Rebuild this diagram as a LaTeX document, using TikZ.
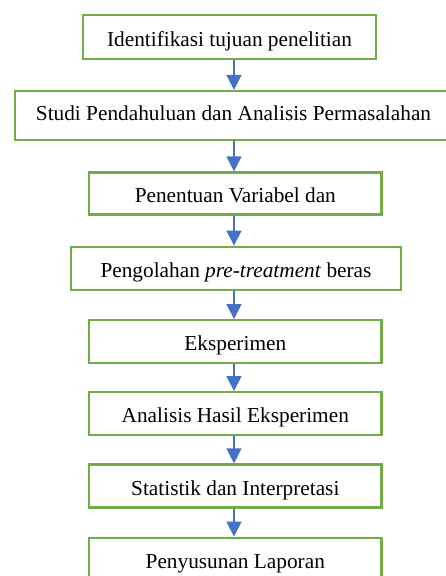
\documentclass[tikz,border=0pt]{standalone}
\usepackage{fontspec}
\setmainfont{Liberation Serif}
\usetikzlibrary{arrows.meta}
\definecolor{boxgreen}{HTML}{70AD47}
\definecolor{arrowblue}{HTML}{4472C4}
\begin{document}
\begin{tikzpicture}[x=1pt,y=-1pt,
  stepbox/.style={draw=boxgreen, line width=2.2pt, fill=white, inner sep=0pt,
    font=\fontsize{21.3}{25}\selectfont, text height=18pt, text depth=0pt,
    minimum height=43pt},
  flow/.style={draw=arrowblue, line width=1.3pt,
    -{Triangle[width=15pt,length=15pt]}, arrowblue}
]
\useasboundingbox (0,0) rectangle (445,576);
\coordinate (ax) at (234,0);
\node[stepbox, minimum width=293pt, minimum height=44pt] (b1) at (229.5,37) {Identifikasi tujuan penelitian};
\node[stepbox, minimum width=437pt, minimum height=48.7pt, text height=10.6pt] (b2) at (233.5,115.4) {Studi Pendahuluan dan Analisis Permasalahan};
\node[stepbox, minimum width=292.5pt, minimum height=42pt] (b3) at (235.3,193.5) {Penentuan Variabel dan};
\node[stepbox, minimum width=330pt] (b4) at (236,268.2) {Pengolahan \textit{pre-treatment} beras};
\node[stepbox, minimum width=292.5pt] (b5) at (235.3,341.7) {Eksperimen};
\node[stepbox, minimum width=292.5pt] (b6) at (235.3,413.7) {Analisis Hasil Eksperimen};
\node[stepbox, minimum width=292.5pt] (b7) at (235.3,486) {Statistik dan Interpretasi};
\node[stepbox, minimum width=292.5pt] (b8) at (235.3,559.2) {Penyusunan Laporan};
\draw[flow] (b1.south -| ax) -- (b2.north -| ax);
\draw[flow] (b2.south -| ax) -- (b3.north -| ax);
\draw[flow] (b3.south -| ax) -- (b4.north -| ax);
\draw[flow] (b4.south -| ax) -- (b5.north -| ax);
\draw[flow] (b5.south -| ax) -- (b6.north -| ax);
\draw[flow] (b6.south -| ax) -- (b7.north -| ax);
\draw[flow] (b7.south -| ax) -- (b8.north -| ax);
\end{tikzpicture}
\end{document}
